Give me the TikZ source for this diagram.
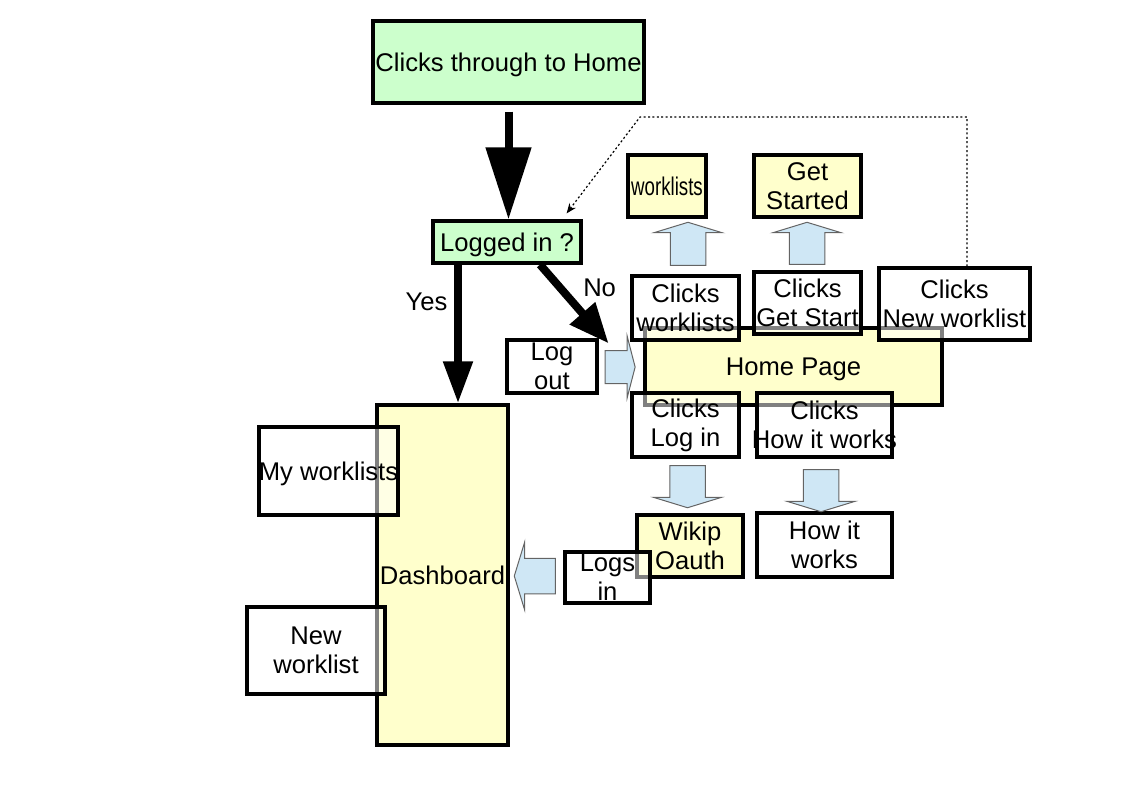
\documentclass[tikz,border=0pt]{standalone}
\usepackage{fontspec}
\setmainfont{Liberation Sans}
\usepackage{graphicx}
\usetikzlibrary{
    arrows.meta,
    calc,
    shapes.arrows
}
\definecolor{startgreen}{RGB}{204,255,204}
\definecolor{pageyellow}{RGB}{255,255,204}
\definecolor{hintblue}{RGB}{207,231,245}
\definecolor{hintedge}{RGB}{100,100,100}
\newcommand{\overrun}[1]{\makebox[0pt]{#1}}
\tikzset{
    line join=round,
    base box/.style={
        rectangle,
        draw=black,
        line width=1.6pt,
        fill=white,
        inner sep=0pt,
        align=center,
        font=\fontsize{12.8pt}{14.5pt}\selectfont
    },
    startbox/.style={base box, fill=startgreen},
    pagebox/.style={base box, fill=pageyellow},
    clickbox/.style={base box, fill=white, fill opacity=0.5, text opacity=1},
    oneline/.style={text depth=0pt},
    fatarrow/.style={
        draw=black,
        line cap=butt,
        line width=4pt
    },
    bluearrow/.style={
        single arrow,
        draw=hintedge,
        fill=hintblue,
        line width=0.5pt,
        inner xsep=0pt,
        inner ysep=8.5pt,
        single arrow head extend=8pt,
        single arrow tip angle=146,
        minimum width=34pt
    },
    dotlink/.style={
        draw=black,
        line width=0.6pt,
        dash pattern=on 1pt off 1.2pt,
        -{Stealth[length=5pt,width=4pt]}
    },
    annot/.style={
        font=\fontsize{12.8pt}{14.5pt}\selectfont,
        text=black
    }
}

\begin{document}
\begin{tikzpicture}[x=0.5pt, y=-0.5pt]
\useasboundingbox (0,0) rectangle (1123,794);

% Entry and check
\node[startbox, oneline, minimum width=135.5pt, minimum height=41pt] (home) at (508.5,62) {Clicks through to Home};
\node[startbox, oneline, minimum width=74pt, minimum height=21pt] (logged) at (507,242) {Logged in ?};

% Home page and its links
\node[pagebox, minimum width=39pt, minimum height=31pt] (wl) at (667,186) {\scalebox{0.73}[1]{worklists}};
\node[pagebox, minimum width=53.5pt, minimum height=31pt] (gs) at (807.5,186) {Get\\Started};
\node[pagebox, oneline, minimum width=148.5pt, minimum height=38.5pt] (hp) at (793.5,366.5) {Home Page};
\node[clickbox, minimum width=53.5pt, minimum height=32pt] (cwl) at (685.5,308) {Clicks\\worklists};
\node[clickbox, minimum width=53.5pt, minimum height=31pt] (cgs) at (807.5,303) {Clicks\\Get Start};
\node[clickbox, minimum width=75.5pt, minimum height=36pt] (cnw) at (954.5,304) {Clicks\\New worklist};
\node[clickbox, minimum width=53.5pt, minimum height=32pt] (cli) at (685.5,425) {Clicks\\Log in};
\node[clickbox, minimum width=67.5pt, minimum height=32pt] (chw) at (824.5,425) {Clicks\\\overrun{How it works}};
\node[base box, minimum width=45pt, minimum height=26.5pt] (lo) at (552,366.5) {Log\\out};
\node[pagebox, minimum width=53pt, minimum height=31pt] (wik) at (690,546) {Wikip\\Oauth};
\node[base box, minimum width=67.5pt, minimum height=32pt] (hiw) at (824.5,545) {How it\\works};
\node[clickbox, minimum width=42.5pt, minimum height=25.5pt] (li) at (607.5,577.5) {Logs\\in};

% Dashboard
\node[pagebox, minimum width=65.5pt, minimum height=170pt] (dash) at (442.5,575) {Dashboard};
\node[clickbox, oneline, minimum width=69.5pt, minimum height=44pt] (mwl) at (328.5,471) {\overrun{My worklists}};
\node[clickbox, minimum width=69pt, minimum height=43.5pt] (nwl) at (316,650.5) {New\\worklist};

% Block arrows
\node[bluearrow, rotate=90, minimum height=21.5pt] (up1) at (688,246.5) {};
\node[bluearrow, rotate=90, minimum height=21pt] (up2) at (807,246) {};
\node[bluearrow, rotate=-90, minimum height=21pt] (down1) at (687.5,484) {};
\node[bluearrow, rotate=-90, minimum height=21pt] (down2) at (821,488) {};
\node[bluearrow, rotate=180, minimum height=20.5pt] (back) at (537.5,576) {};
\node[bluearrow, minimum height=15pt, inner ysep=8pt, single arrow head extend=7.25pt, single arrow tip angle=151, minimum width=30.5pt] (enter) at (618,367) {};

% Main flow
\draw[fatarrow, -{Triangle[length=36pt,width=22pt]}] ([yshift=-3.5pt]home.south) -- (home.south |- logged.north);
\draw[fatarrow, -{Triangle[length=21pt,width=14pt]}] ([xshift=-24.5pt]logged.south) -- ([xshift=-24.5pt]logged.south |- dash.north) node[annot, pos=0.27, left] (yeslbl) {Yes};
\draw[fatarrow, -{Triangle[length=20pt,width=16pt]}] ([xshift=16.5pt]logged.south) -- ([xshift=5pt,yshift=-2.5pt]lo.north east) node[annot, pos=0.3, right=6pt] (nolbl) {No};

% Back link
\coordinate (bend) at (640,117);
\draw[dotlink] ([xshift=6.25pt]cnw.north) |- (bend) -- ([xshift=-8pt,yshift=3pt]logged.north east);

\end{tikzpicture}
\end{document}
